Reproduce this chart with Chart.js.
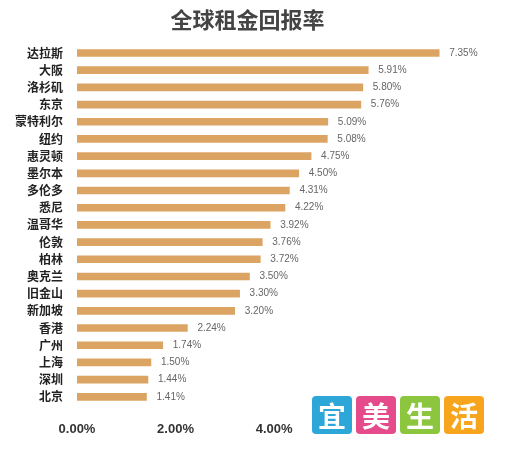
<!DOCTYPE html>
<html><head><meta charset="utf-8">
<script src="https://cdn.jsdelivr.net/npm/chart.js@4"></script>
<style>
body{margin:0;background:#fff;font-family:"Noto Sans CJK SC",sans-serif}
#wrap{position:relative;width:518px;height:451px}
#logo{position:absolute;left:312px;top:396px;display:flex;gap:4px}
#logo span{width:40px;height:38px;display:flex;align-items:center;justify-content:center;color:#fff;font-size:28px;font-weight:bold;border-radius:4px}
</style></head><body>
<div id="wrap"><canvas id="c" width="518" height="451"></canvas>
<div id="logo"><span style="background:#2ca7d8">宜</span><span style="background:#e54b8a">美</span><span style="background:#8cc63f">生</span><span style="background:#f7a51c">活</span></div></div>
<script>
const cities = ['达拉斯','大阪','洛杉矶','东京','蒙特利尔','纽约','惠灵顿','墨尔本','多伦多','悉尼','温哥华','伦敦','柏林','奥克兰','旧金山','新加坡','香港','广州','上海','深圳','北京'];
const yields = [7.35,5.91,5.80,5.76,5.09,5.08,4.75,4.50,4.31,4.22,3.92,3.76,3.72,3.50,3.30,3.20,2.24,1.74,1.50,1.44,1.41];
const xTicks = [0,2,4];

const valueLabels = {
  id: 'valueLabels',
  afterDatasetsDraw(chart) {
    const ctx = chart.ctx;
    const meta = chart.getDatasetMeta(0);
    ctx.save();
    ctx.fillStyle = '#666';
    ctx.font = '10px "Liberation Sans", sans-serif';
    ctx.textBaseline = 'middle';
    meta.data.forEach((bar, i) => {
      ctx.fillText(yields[i].toFixed(2) + '%', bar.x + 10, bar.y);
    });
    ctx.restore();
  }
};

new Chart(document.getElementById('c'), {
  type: 'bar',
  data: {
    labels: cities,
    datasets: [{
      data: yields,
      backgroundColor: '#dca463',
      barThickness: 7,
      borderSkipped: false
    }]
  },
  options: {
    indexAxis: 'y',
    responsive: false,
    animation: false,
    layout: { padding: { left: 9, right: 32, top: 6, bottom: 6 } },
    plugins: {
      legend: { display: false },
      tooltip: { enabled: false },
      title: {
        display: true,
        text: '全球租金回报率',
        color: '#444',
        font: { size: 22, weight: 'bold', family: '"Noto Sans CJK SC"' },
        padding: { top: 0, bottom: 12 }
      }
    },
    scales: {
      x: {
        min: 0, max: 8.3,
        grid: { display: false },
        border: { display: false },
        afterBuildTicks: axis => { axis.ticks = xTicks.map(v => ({ value: v })); },
        ticks: {
          color: '#333',
          font: { size: 13, weight: 'bold', family: '"Liberation Sans"' },
          callback: v => v.toFixed(2) + '%',
          padding: 8
        }
      },
      y: {
        grid: { display: false },
        border: { display: false },
        ticks: {
          color: '#222',
          font: { size: 12, weight: 'bold', family: '"Noto Sans CJK SC"' },
          padding: 6,
          autoSkip: false
        }
      }
    }
  },
  plugins: [valueLabels]
});
</script></body></html>
